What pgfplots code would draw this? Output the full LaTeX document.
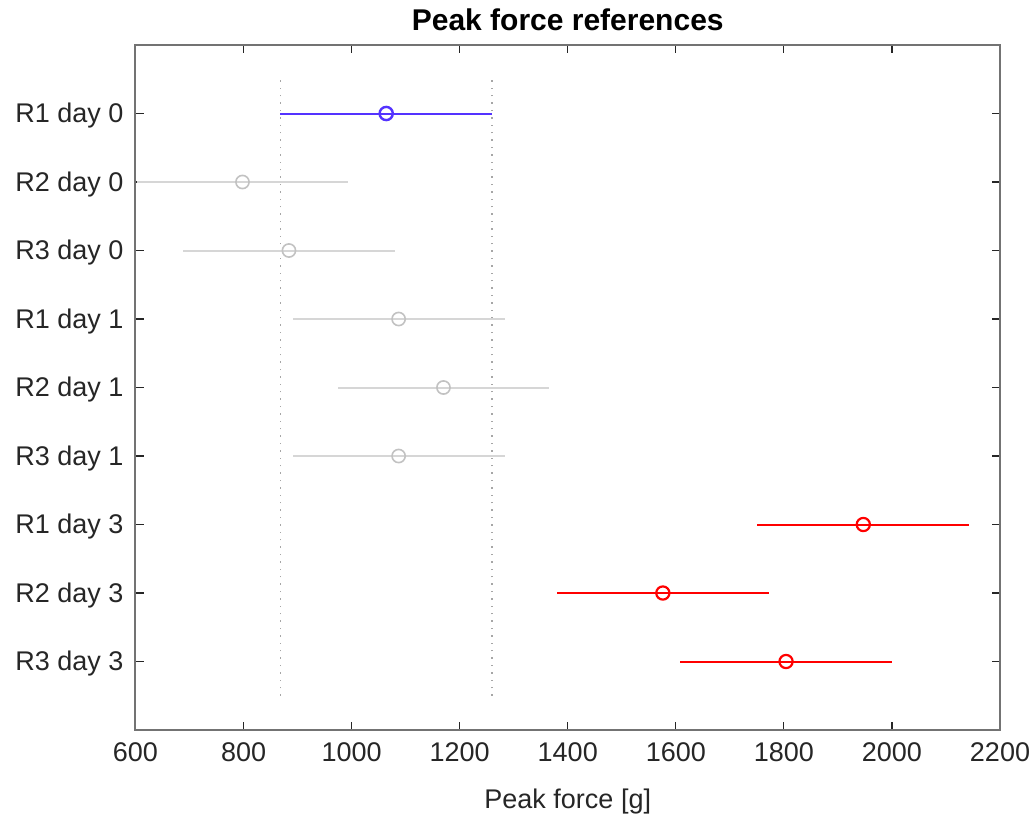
\documentclass[border=0pt]{standalone}
\usepackage{fontspec}
\setmainfont{Liberation Sans}
\usepackage{pgfplots}
\pgfplotsset{compat=1.18}
\definecolor{mblue}{rgb}{0.33,0.2,1}
\definecolor{mred}{rgb}{1,0,0}
\definecolor{lgrey}{rgb}{0.84,0.84,0.84}
\definecolor{cgrey}{rgb}{0.76,0.76,0.76}
\definecolor{axgrey}{rgb}{0.15,0.15,0.15}
\begin{document}
\begin{tikzpicture}
\path[use as bounding box] (-67.75pt,-43pt) rectangle (450.25pt,365pt);
\begin{axis}[
  scale only axis,
  width=432.25pt, height=342.5pt,
  xmin=600, xmax=2200, ymin=0, ymax=10,
  xtick={600,800,...,2200},
  ytick={1,...,9},
  yticklabels={R3 day 3,R2 day 3,R1 day 3,R3 day 1,R2 day 1,R1 day 1,R3 day 0,R2 day 0,R1 day 0},
  tick align=inside,
  xtick pos=both, ytick pos=both,
  major tick length=4pt,
  axis line style={draw=black!55, line width=1pt},
  every tick/.style={draw=axgrey, line width=0.6pt},
  scaled x ticks=false,
  /pgf/number format/assume math mode=true,
  /pgf/number format/1000 sep={},
  every tick label/.append style={font=\fontsize{13.5}{16}\selectfont, text=axgrey},
  xticklabel style={yshift=-3pt},
  yticklabel style={xshift=-2.5pt, yshift=-1.2pt},
  xlabel={Peak force [g]},
  xlabel style={font=\fontsize{13.5}{16}\selectfont, text=axgrey, at={(axis description cs:0.5,0)}, anchor=center, yshift=-36pt},
  title={Peak force references},
  title style={font=\fontsize{15}{17}\selectfont\bfseries, at={(axis description cs:0.5,1)}, anchor=center, yshift=6.5pt},
  clip=true,
  error bars/error bar style={line width=1pt},
  error bars/error mark=none,
]
% dotted reference lines (bounds of R1 day 0 interval)
\addplot[black!35, line width=0.7pt, dash pattern=on 0.7pt off 3pt] coordinates {(868,0.5) (868,9.5)};
\addplot[black!35, line width=0.7pt, dash pattern=on 0.7pt off 3pt] coordinates {(1260,0.5) (1260,9.5)};
% grey groups
\addplot[only marks, mark=o, mark size=3.3pt, cgrey, mark options={line width=0.8pt},
  error bars/.cd, x dir=both, x explicit, error bar style={lgrey, line width=1pt}]
  coordinates {
  (798,8) +- (196,0)
  (884,7) +- (196,0)
  (1087,6) +- (196,0)
  (1170,5) +- (196,0)
  (1087,4) +- (196,0)
  };
% red groups
\addplot[only marks, mark=o, mark size=3.3pt, mred, mark options={line width=1.1pt},
  error bars/.cd, x dir=both, x explicit, error bar style={mred, line width=1pt}]
  coordinates {
  (1947,3) +- (196,0)
  (1576,2) +- (196,0)
  (1804,1) +- (196,0)
  };
% blue group
\addplot[only marks, mark=o, mark size=3.3pt, mblue, mark options={line width=1.2pt},
  error bars/.cd, x dir=both, x explicit, error bar style={mblue, line width=1pt}]
  coordinates {
  (1064,9) +- (196,0)
  };
\end{axis}
\end{tikzpicture}
\end{document}
